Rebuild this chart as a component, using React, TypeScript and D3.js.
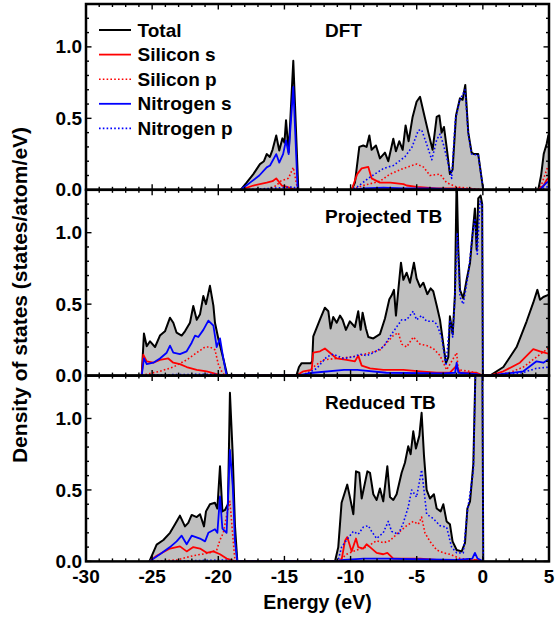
import React from "react";
import * as d3 from "d3";

type Pt = [number, number];

// ---------- DATA: energy (eV), DOS (states/atom/eV) ----------
const panelNames = ["DFT", "Projected TB", "Reduced TB"];
const legendLabels = ["Total", "Silicon s", "Silicon p", "Nitrogen s", "Nitrogen p"];
const xTickValues = [-30, -25, -20, -15, -10, -5, 0, 5];
const yTickValues = [0, 0.5, 1.0];

// DFT
const dftTotal: Pt[] = [
  [-18.31, 0], [-17.86, 0.05], [-17.35, 0.11], [-16.85, 0.18], [-16.55, 0.2], [-16.34, 0.25], [-16.1, 0.23], [-15.9, 0.28], [-15.62, 0.38], [-15.39, 0.275], [-15.15, 0.36], [-15.0, 0.33], [-14.88, 0.487], [-14.68, 0.263], [-14.33, 0.903], [-13.95, 0],
  [-9.92, 0], [-9.67, 0.05], [-9.34, 0.3], [-9.04, 0.31], [-8.79, 0.3], [-8.58, 0.38], [-8.41, 0.28], [-8.08, 0.31], [-7.78, 0.22], [-7.4, 0.26], [-7.15, 0.2], [-6.77, 0.357], [-6.57, 0.27], [-6.32, 0.34], [-6.06, 0.28], [-5.84, 0.45], [-5.61, 0.34], [-5.31, 0.51], [-5.01, 0.616], [-4.75, 0.651], [-4.45, 0.53], [-4.12, 0.4], [-3.8, 0.28], [-3.49, 0.51], [-3.29, 0.52], [-3.12, 0.4], [-2.94, 0.44], [-2.74, 0.3], [-2.49, 0.11], [-2.29, 0.14], [-2.03, 0.52], [-1.73, 0.64], [-1.53, 0.63], [-1.33, 0.734], [-1.1, 0.4], [-0.85, 0.26], [-0.67, 0.25], [-0.35, 0.25], [0.03, 0],
  [4.19, 0], [4.4, 0.1], [4.6, 0.25], [4.82, 0.32], [4.95, 0.38], [5.1, 0.4],
];
const dftSiS: Pt[] = [
  [-18.3, 0], [-17.35, 0.03], [-16.34, 0.05], [-15.9, 0.06], [-15.62, 0.08], [-15.2, 0.03], [-14.8, 0.02], [-14.33, 0.005], [-14.0, 0],
  [-9.92, 0], [-9.5, 0.11], [-9.16, 0.15], [-8.66, 0.16], [-8.41, 0.08], [-7.78, 0.05], [-7.0, 0.05], [-6.0, 0.04], [-5.76, 0.03], [-5.0, 0.02], [-3.5, 0.01], [-2.0, 0.01], [-1.0, 0.005], [0, 0],
  [4.19, 0], [4.6, 0.03], [4.82, 0.07], [5.1, 0.09],
];
const dftSiP: Pt[] = [
  [-18.0, 0], [-16.3, 0.0], [-15.6, 0.03], [-15.3, 0.06], [-14.7, 0.08], [-14.33, 0.157], [-14.0, 0],
  [-9.92, 0], [-9.04, 0.03], [-7.78, 0.06], [-7.02, 0.11], [-6.0, 0.15], [-5.0, 0.18], [-4.5, 0.16], [-4.0, 0.1], [-3.24, 0.11], [-2.74, 0.05], [-2.0, 0.02], [-1.0, 0.01], [0, 0],
  [4.3, 0], [4.6, 0.08], [4.9, 0.16], [5.1, 0.18],
];
const dftNS: Pt[] = [
  [-18.31, 0], [-17.6, 0.05], [-16.9, 0.1], [-16.34, 0.157], [-16.09, 0.17], [-15.62, 0.25], [-15.39, 0.19], [-15.1, 0.25], [-14.88, 0.346], [-14.68, 0.25], [-14.33, 0.72], [-14.0, 0],
  [-9.92, 0], [-9.0, 0.01], [-7.5, 0.015], [-6, 0.01], [-4, 0.01], [-2, 0.005], [0, 0],
  [4.3, 0], [4.82, 0.05], [5.1, 0.06],
];
const dftNP: Pt[] = [
  [-18.3, 0], [-16, 0.01], [-14.33, 0.02], [-14, 0],
  [-9.92, 0], [-9.5, 0.02], [-8.55, 0.087], [-7.5, 0.15], [-6.77, 0.17], [-5.9, 0.23], [-5.35, 0.3], [-4.88, 0.416], [-4.63, 0.42], [-4.25, 0.32], [-3.86, 0.21], [-3.49, 0.35], [-3.24, 0.39], [-2.99, 0.32], [-2.74, 0.23], [-2.36, 0.08], [-2.08, 0.49], [-1.73, 0.63], [-1.35, 0.7], [-1.1, 0.39], [-0.85, 0.25], [-0.67, 0.245], [-0.35, 0.245], [0.03, 0],
  [4.3, 0], [5.1, 0.03],
];

// Projected TB
const ptbTotal: Pt[] = [
  [-25.79, 0], [-25.62, 0.294], [-25.41, 0.205], [-25.16, 0.24], [-24.78, 0.2], [-24.41, 0.28], [-24.03, 0.31], [-23.65, 0.405], [-23.4, 0.37], [-23.15, 0.3], [-22.77, 0.28], [-22.52, 0.31], [-22.14, 0.37], [-21.89, 0.487], [-21.63, 0.39], [-21.38, 0.43], [-21.13, 0.557], [-20.93, 0.5], [-20.63, 0.628], [-20.37, 0.49], [-20.25, 0.37], [-20.0, 0.26], [-19.62, 0.12], [-19.32, 0],
  [-14.1, 0], [-13.9, 0.06], [-13.7, 0.087], [-13.0, 0.087], [-12.9, 0.1], [-12.82, 0.275], [-12.31, 0.393], [-11.94, 0.475], [-11.68, 0.45], [-11.51, 0.33], [-11.31, 0.41], [-11.05, 0.37], [-10.8, 0.42], [-10.6, 0.39], [-10.35, 0.32], [-10.05, 0.38], [-9.67, 0.34], [-9.42, 0.45], [-9.24, 0.32], [-9.09, 0.44], [-8.84, 0.33], [-8.66, 0.27], [-8.28, 0.26], [-7.78, 0.29], [-7.4, 0.4], [-7.07, 0.534], [-6.9, 0.56], [-6.72, 0.6], [-6.57, 0.42], [-6.39, 0.6], [-6.19, 0.79], [-6.01, 0.67], [-5.76, 0.72], [-5.51, 0.65], [-5.21, 0.79], [-5.01, 0.68], [-4.75, 0.62], [-4.5, 0.65], [-4.2, 0.57], [-3.95, 0.61], [-3.75, 0.59], [-3.49, 0.49], [-3.24, 0.39], [-2.99, 0.22], [-2.79, 0.087], [-2.61, 0.13], [-2.49, 0.415], [-2.28, 0.29], [-2.11, 0.57], [-1.98, 1.4], [-1.86, 0.9], [-1.73, 0.6], [-1.48, 0.54], [-1.23, 0.67], [-0.97, 0.79], [-0.77, 1.0], [-0.6, 1.17], [-0.47, 0.88], [-0.35, 1.24], [-0.17, 1.26], [-0.05, 1.2], [0.0, 0],
  [0.54, 0], [1.55, 0.06], [2.55, 0.2], [3.31, 0.38], [3.81, 0.51], [4.12, 0.6], [4.32, 0.53], [4.57, 0.55], [4.95, 0.565], [5.22, 0.57],
];
const ptbSiS: Pt[] = [
  [-25.79, 0], [-25.67, 0.146], [-25.41, 0.1], [-24.91, 0.09], [-24.41, 0.11], [-23.78, 0.12], [-23.4, 0.09], [-22.9, 0.08], [-22.39, 0.06], [-21.63, 0.04], [-20.88, 0.03], [-20.12, 0.01], [-19.6, 0],
  [-14.08, 0], [-13.57, 0.03], [-12.94, 0.04], [-12.82, 0.16], [-12.31, 0.17], [-11.94, 0.19], [-11.56, 0.16], [-11.05, 0.12], [-10.3, 0.11], [-9.67, 0.1], [-9.42, 0.14], [-9.16, 0.07], [-8.53, 0.05], [-7.53, 0.04], [-6.01, 0.04], [-4.75, 0.03], [-3.49, 0.02], [-2.49, 0.02], [-1.98, 0.07], [-1.73, 0.02], [-0.47, 0.02], [0.0, 0],
  [0.54, 0], [1.55, 0.03], [2.8, 0.09], [3.81, 0.185], [4.32, 0.17], [5.07, 0.15],
];
const ptbSiP: Pt[] = [
  [-25.79, 0], [-25.41, 0.01], [-24.41, 0.03], [-23.4, 0.06], [-22.39, 0.11], [-21.63, 0.16], [-21.0, 0.2], [-20.63, 0.2], [-20.25, 0.18], [-20.0, 0.08], [-19.75, 0.03], [-19.5, 0],
  [-13.57, 0], [-12.82, 0.06], [-12.06, 0.11], [-11.05, 0.12], [-10.05, 0.13], [-9.29, 0.14], [-8.53, 0.16], [-7.78, 0.18], [-7.27, 0.23], [-6.77, 0.28], [-6.39, 0.3], [-6.14, 0.22], [-5.76, 0.2], [-5.26, 0.27], [-4.75, 0.22], [-4.25, 0.21], [-3.75, 0.19], [-3.24, 0.14], [-2.74, 0.04], [-1.98, 0.16], [-1.86, 0.04], [-0.97, 0.03], [0.0, 0],
  [0.54, 0], [2.0, 0.02], [3.06, 0.06], [4.06, 0.13], [5.07, 0.2],
];
const ptbNS: Pt[] = [
  [-25.79, 0], [-25.62, 0.12], [-25.41, 0.08], [-24.91, 0.09], [-24.41, 0.12], [-23.9, 0.16], [-23.65, 0.21], [-23.4, 0.16], [-22.9, 0.15], [-22.39, 0.17], [-22.01, 0.23], [-21.76, 0.28], [-21.51, 0.27], [-21.13, 0.32], [-20.75, 0.385], [-20.37, 0.35], [-20.12, 0.2], [-19.87, 0.26], [-19.62, 0.12], [-19.37, 0],
  [-14.1, 0], [-12.82, 0.02], [-10.5, 0.04], [-9.5, 0.04], [-7.3, 0.02], [-3, 0.015], [-2.1, 0.02], [-1.98, 0.09], [-1.85, 0.02], [-0.5, 0.01], [0, 0],
  [0.54, 0], [3.06, 0.03], [4.06, 0.1], [4.57, 0.09], [5.07, 0.12],
];
const ptbNP: Pt[] = [
  [-25.79, 0], [-25, 0.005], [-20, 0.01], [-19.4, 0],
  [-14.1, 0], [-13.57, 0.0], [-12.56, 0.05], [-11.81, 0.13], [-11.31, 0.15], [-10.55, 0.12], [-9.79, 0.13], [-9.29, 0.15], [-8.78, 0.14], [-8.28, 0.16], [-7.53, 0.2], [-6.9, 0.29], [-6.52, 0.34], [-6.14, 0.39], [-5.76, 0.39], [-5.26, 0.45], [-5.01, 0.39], [-4.63, 0.42], [-4.25, 0.38], [-3.75, 0.38], [-3.49, 0.36], [-3.12, 0.27], [-2.79, 0.07], [-2.49, 0.39], [-2.28, 0.27], [-2.11, 0.55], [-1.93, 1.0], [-1.73, 0.55], [-1.48, 0.5], [-1.1, 0.71], [-0.77, 1.0], [-0.6, 1.1], [-0.42, 0.85], [-0.22, 1.22], [-0.05, 1.2], [0.0, 0],
  [0.54, 0], [3.0, 0.02], [4.0, 0.05], [5.07, 0.06],
];

// Reduced TB
const rtbTotal: Pt[] = [
  [-25.21, 0], [-24.66, 0.117], [-24.15, 0.15], [-23.65, 0.2], [-23.27, 0.26], [-22.9, 0.32], [-22.52, 0.245], [-22.27, 0.27], [-22.01, 0.325], [-21.63, 0.31], [-21.38, 0.33], [-21.08, 0.245], [-20.93, 0.35], [-20.63, 0.4], [-20.25, 0.41], [-20.07, 0.37], [-19.87, 0.666], [-19.69, 0.35], [-19.49, 0.36], [-19.27, 0.4], [-19.12, 1.18], [-18.91, 0.75], [-18.74, 0.25], [-18.56, 0],
  [-11.18, 0], [-10.93, 0.1], [-10.68, 0.41], [-10.25, 0.537], [-10.05, 0.45], [-9.79, 0.33], [-9.59, 0.63], [-9.34, 0.62], [-9.16, 0.44], [-8.91, 0.55], [-8.73, 0.63], [-8.53, 0.62], [-8.28, 0.47], [-8.03, 0.43], [-7.78, 0.51], [-7.53, 0.42], [-7.22, 0.666], [-7.02, 0.45], [-6.77, 0.43], [-6.52, 0.47], [-6.14, 0.62], [-5.89, 0.69], [-5.64, 0.806], [-5.46, 0.75], [-5.26, 0.91], [-5.06, 0.79], [-4.8, 0.88], [-4.63, 1.04], [-4.45, 0.74], [-4.25, 0.5], [-4.0, 0.44], [-3.7, 0.47], [-3.49, 0.37], [-3.19, 0.35], [-2.99, 0.4], [-2.74, 0.28], [-2.49, 0.26], [-2.29, 0.14], [-1.98, 0.08], [-1.6, 0.07], [-1.35, 0.13], [-1.17, 0.37], [-0.97, 0.42], [-0.72, 0.68], [-0.52, 1.5], [-0.22, 1.5], [-0.04, 1.5], [0.03, 0],
];
const rtbSiS: Pt[] = [
  [-25.21, 0], [-24.66, 0.04], [-23.65, 0.09], [-22.9, 0.105], [-22.39, 0.07], [-21.89, 0.1], [-21.38, 0.09], [-20.88, 0.06], [-20.37, 0.07], [-19.87, 0.05], [-19.37, 0.02], [-18.86, 0.005], [-18.56, 0],
  [-11.18, 0], [-10.68, 0.01], [-10.42, 0.145], [-10.25, 0.17], [-9.92, 0.07], [-9.59, 0.16], [-9.42, 0.1], [-9.04, 0.09], [-8.79, 0.12], [-8.53, 0.1], [-8.03, 0.06], [-7.53, 0.05], [-7.22, 0.06], [-6.77, 0.02], [-4.75, 0.02], [-3.49, 0.01], [-0.97, 0.005], [-0.47, 0.01], [0.03, 0],
];
const rtbSiP: Pt[] = [
  [-25.2, 0], [-23.15, 0.01], [-21.89, 0.04], [-20.63, 0.06], [-20.12, 0.08], [-19.87, 0.15], [-19.62, 0.2], [-19.37, 0.32], [-19.12, 0.42], [-18.86, 0.13], [-18.74, 0.01], [-18.6, 0],
  [-10.93, 0], [-10.3, 0.05], [-9.54, 0.08], [-8.79, 0.1], [-8.03, 0.145], [-7.53, 0.13], [-7.02, 0.145], [-6.52, 0.19], [-5.76, 0.25], [-5.26, 0.28], [-4.88, 0.26], [-4.63, 0.31], [-4.38, 0.2], [-4.0, 0.14], [-3.49, 0.08], [-2.99, 0.06], [-2.49, 0.05], [-1.73, 0.02], [-0.47, 0.01], [0.03, 0],
];
const rtbNS: Pt[] = [
  [-25.21, 0], [-24.41, 0.05], [-23.65, 0.1], [-23.15, 0.14], [-22.77, 0.18], [-22.39, 0.12], [-22.01, 0.18], [-21.38, 0.16], [-21.0, 0.14], [-20.75, 0.2], [-20.25, 0.225], [-20.07, 0.2], [-19.87, 0.455], [-19.69, 0.23], [-19.37, 0.2], [-19.12, 0.78], [-18.91, 0.53], [-18.74, 0.14], [-18.56, 0],
  [-11.18, 0], [-10.5, 0.01], [-9, 0.02], [-7.2, 0.02], [-5, 0.015], [-2, 0.01], [-0.8, 0.02], [-0.6, 0.06], [-0.4, 0.02], [0.03, 0],
];
const rtbNP: Pt[] = [
  [-25.21, 0], [-22, 0.005], [-19.5, 0.01], [-18.56, 0],
  [-11.18, 0], [-10.93, 0.01], [-10.68, 0.1], [-10.3, 0.15], [-9.79, 0.21], [-9.42, 0.19], [-9.04, 0.24], [-8.66, 0.25], [-8.41, 0.21], [-8.03, 0.16], [-7.53, 0.2], [-7.15, 0.28], [-6.9, 0.21], [-6.39, 0.19], [-6.01, 0.27], [-5.64, 0.38], [-5.38, 0.5], [-5.01, 0.45], [-4.63, 0.64], [-4.45, 0.5], [-4.25, 0.33], [-3.75, 0.3], [-3.24, 0.25], [-2.74, 0.24], [-2.36, 0.1], [-1.98, 0.06], [-1.48, 0.06], [-1.17, 0.35], [-0.72, 0.63], [-0.52, 1.5], [-0.04, 1.5], [0.03, 0],
];

const panelSeries: Pt[][][] = [
  [dftTotal, dftSiS, dftSiP, dftNS, dftNP],
  [ptbTotal, ptbSiS, ptbSiP, ptbNS, ptbNP],
  [rtbTotal, rtbSiS, rtbSiP, rtbNS, rtbNP],
];

// ---------- STYLE ----------
const W = 556, H = 619;
const left = 86, right = 549;
const top0 = 4, panelH = 185.8;
const yMax = 1.3;
const seriesColor = ["#000000", "#ff0000", "#ff0000", "#0000ff", "#0000ff"];
const seriesDash = [null, null, "1.6,2.2", null, "1.6,2.2"];
const seriesWidth = [2, 1.8, 1.6, 1.8, 1.6];
const font = "'Liberation Sans', Arial, Helvetica, sans-serif";

export default function App() {
  const x = d3.scaleLinear().domain([-30, 5]).range([left, right]);
  const minorX = d3.range(-30, 5.001, 1);
  const minorY = d3.range(0, yMax + 0.0001, 0.1);

  return (
    <svg width={W} height={H} style={{ position: "absolute", left: 0, top: 0, background: "#fff" }} fontFamily={font}>
      <defs>
        {panelNames.map((_, i) => (
          <clipPath id={`clip${i}`} key={i}>
            <rect x={left} y={top0 + i * panelH} width={right - left} height={panelH} />
          </clipPath>
        ))}
      </defs>
      {panelNames.map((name, i) => {
        const pTop = top0 + i * panelH;
        const pBot = pTop + panelH;
        const y = d3.scaleLinear().domain([0, yMax]).range([pBot, pTop]);
        const line = d3.line<Pt>().x((d) => x(d[0])).y((d) => y(d[1]));
        const area = d3.area<Pt>().x((d) => x(d[0])).y0(y(0)).y1((d) => y(d[1]));
        const series = panelSeries[i];
        return (
          <g key={name}>
            <g clipPath={`url(#clip${i})`}>
              <path d={area(series[0]) || ""} fill="#c0c0c0" stroke="none" />
              <path d={line(series[0]) || ""} fill="none" stroke="#000" strokeWidth={seriesWidth[0]} strokeLinejoin="round" />
              {series.slice(1).map((s, k) => (
                <path key={k} d={line(s) || ""} fill="none" stroke={seriesColor[k + 1]} strokeWidth={seriesWidth[k + 1]}
                  strokeDasharray={seriesDash[k + 1] || undefined} strokeLinejoin="round" />
              ))}
            </g>
            {/* x ticks: bottom & top, inward */}
            {minorX.map((v) => {
              const major = Math.abs(v % 5) < 1e-9;
              const len = major ? 5.5 : 3;
              return (
                <g key={`xt${v}`} stroke="#000" strokeWidth={1.4}>
                  <line x1={x(v)} x2={x(v)} y1={pBot} y2={pBot - len} />
                  <line x1={x(v)} x2={x(v)} y1={pTop} y2={pTop + len} />
                </g>
              );
            })}
            {/* y ticks: left & right, inward */}
            {minorY.map((v, k) => {
              const major = k % 5 === 0;
              const len = major ? 5.5 : 3;
              return (
                <g key={`yt${k}`} stroke="#000" strokeWidth={1.4}>
                  <line x1={left} x2={left + len} y1={y(v)} y2={y(v)} />
                  <line x1={right} x2={right - len} y1={y(v)} y2={y(v)} />
                </g>
              );
            })}
            {yTickValues.map((v) => (
              <text key={`yl${v}`} x={82} y={y(v) + 6.6} textAnchor="end" fontSize={19} fontWeight="bold">
                {v.toFixed(1)}
              </text>
            ))}
            <rect x={left} y={pTop} width={right - left} height={panelH} fill="none" stroke="#000" strokeWidth={2.5} />
            <text x={325} y={pTop + 33} fontSize={19} fontWeight="bold">{name}</text>
          </g>
        );
      })}
      {/* legend */}
      {legendLabels.map((lab, k) => {
        const ly = 30 + k * 24.6;
        return (
          <g key={lab}>
            <line x1={99} x2={131} y1={ly} y2={ly} stroke={seriesColor[k]} strokeWidth={seriesWidth[k]}
              strokeDasharray={seriesDash[k] || undefined} />
            <text x={137.5} y={ly + 6.5} fontSize={19} fontWeight="bold">{lab}</text>
          </g>
        );
      })}
      {xTickValues.map((v) => (
        <text key={`xl${v}`} x={x(v)} y={583} textAnchor="middle" fontSize={19} fontWeight="bold">{v}</text>
      ))}
      <text x={317.5} y={609} textAnchor="middle" fontSize={19.5} fontWeight="bold">Energy (eV)</text>
      <text transform={`translate(27,295) rotate(-90)`} textAnchor="middle" fontSize={21} fontWeight="bold">
        Density of states (states/atom/eV)
      </text>
    </svg>
  );
}
